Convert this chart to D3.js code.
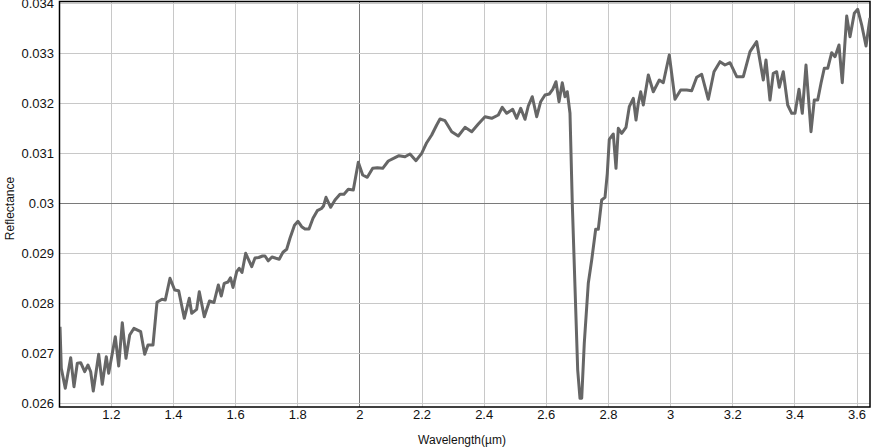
<!DOCTYPE html>
<html lang="en">
<head>
<meta charset="UTF-8">
<script src="https://d3js.org/d3.v7.min.js"></script>
<title>Reflectance spectrum</title>
<style>
body{
	margin: 0;
	background: #fff;
	font-family: "Liberation Sans", Arial, sans-serif;
}
.grid line{stroke: #c8c8c8; stroke-width: 1;}
.grid line.major{stroke: #7a7a7a;}
.axis text{font-size: 13px; fill: #111;}
.axis path, .axis line{display: none;}
.title{font-size: 12px; fill: #111;}
</style>
</head>
<body>
<svg id="chart"></svg>
<script>
// wavelength (um)
var wavelength = [1.0364,1.0406,1.0534,1.0708,1.0814,1.0921,1.1030,1.1159,1.1265,1.1352,
	1.1435,1.1609,1.1725,1.1854,1.1931,1.2144,1.2253,1.2369,1.2488,1.2607,
	1.2745,1.2961,1.3090,1.3196,1.3357,1.3486,1.3647,1.3753,1.3904,1.4055,
	1.4184,1.4364,1.4525,1.4602,1.4763,1.4847,1.5008,1.5175,1.5320,1.5459,
	1.5555,1.5649,1.5771,1.5851,1.5932,1.6051,1.6131,1.6222,1.6340,1.6534,
	1.6640,1.6759,1.6881,1.6962,1.7068,1.7187,1.7316,1.7419,1.7541,1.7660,
	1.7766,1.7911,1.8024,1.8143,1.8249,1.8378,1.8507,1.8645,1.8780,1.8845,
	1.8925,1.9076,1.9215,1.9376,1.9504,1.9643,1.9804,1.9965,2.0106,2.0254,
	2.0428,2.0576,2.0750,2.0930,2.1146,2.1275,2.1468,2.1629,2.1822,2.2005,
	2.2166,2.2327,2.2488,2.2594,2.2755,2.2971,2.3183,2.3399,2.3615,2.3827,
	2.4043,2.4258,2.4471,2.4599,2.4741,2.4934,2.5063,2.5192,2.5330,2.5436,
	2.5565,2.5707,2.5835,2.5974,2.6112,2.6222,2.6328,2.6425,2.6530,2.6617,
	2.6691,2.6778,2.6852,2.6939,2.7026,2.7100,2.7155,2.7238,2.7367,2.7477,
	2.7605,2.7689,2.7798,2.7905,2.7979,2.8043,2.8172,2.8259,2.8333,2.8442,
	2.8581,2.8687,2.8816,2.8903,2.8977,2.9054,2.9138,2.9299,2.9459,2.9653,
	2.9781,2.9974,3.0158,3.0341,3.0534,3.0695,3.0856,3.1017,3.1230,3.1413,
	3.1606,3.1767,3.1928,3.2144,3.2356,3.2572,3.2787,3.2999,3.3086,3.3215,
	3.3321,3.3430,3.3514,3.3643,3.3785,3.3914,3.4020,3.4149,3.4255,3.4374,
	3.4535,3.4641,3.4751,3.4857,3.4963,3.5073,3.5201,3.5308,3.5436,3.5542,
	3.5684,3.5791,3.5929,3.6038,3.6167,3.6306,3.6434];

var reflectance = [0.027532,0.026700,0.026300,0.026912,0.026332,0.026800,0.026812,0.026632,0.026766,0.026632,
	0.026246,0.026980,0.026380,0.026932,0.026600,0.027332,0.026746,0.027612,0.026900,0.027366,
	0.027500,0.027432,0.026980,0.027166,0.027166,0.028020,0.028080,0.028066,0.028500,0.028266,
	0.028252,0.027700,0.028100,0.027800,0.027880,0.028232,0.027732,0.028046,0.028016,0.028366,
	0.028146,0.028400,0.028426,0.028512,0.028316,0.028632,0.028700,0.028616,0.029000,0.028732,
	0.028906,0.028916,0.028946,0.028946,0.028850,0.028926,0.028900,0.028882,0.029022,0.029080,
	0.029300,0.029560,0.029640,0.029532,0.029486,0.029486,0.029700,0.029852,0.029896,0.029946,
	0.030120,0.029920,0.030066,0.030180,0.030180,0.030280,0.030266,0.030820,0.030566,0.030520,
	0.030700,0.030712,0.030700,0.030846,0.030912,0.030952,0.030932,0.030986,0.030852,0.031000,
	0.031212,0.031366,0.031566,0.031686,0.031652,0.031432,0.031346,0.031520,0.031432,0.031586,
	0.031732,0.031700,0.031766,0.031920,0.031800,0.031880,0.031700,0.031900,0.031680,0.031946,
	0.032132,0.031732,0.032032,0.032166,0.032186,0.032280,0.032432,0.032032,0.032412,0.032132,
	0.032232,0.031800,0.030000,0.028332,0.026666,0.026100,0.026100,0.027200,0.028400,0.028866,
	0.029480,0.029480,0.030066,0.030120,0.030600,0.031280,0.031386,0.030700,0.031500,0.031400,
	0.031520,0.031932,0.032100,0.031666,0.032000,0.032232,0.031966,0.032566,0.032232,0.032466,
	0.032412,0.032966,0.032080,0.032266,0.032266,0.032252,0.032520,0.032580,0.032080,0.032632,
	0.032832,0.032766,0.032812,0.032532,0.032532,0.033032,0.033232,0.032466,0.032866,0.032066,
	0.032600,0.032632,0.032320,0.032632,0.031966,0.031800,0.031800,0.032280,0.031800,0.032766,
	0.031432,0.032066,0.032066,0.032400,0.032700,0.032700,0.033012,0.032932,0.033166,0.032412,
	0.033746,0.033332,0.033800,0.033880,0.033566,0.033146,0.033706];

var xTicks = [1.2, 1.4, 1.6, 1.8, 2, 2.2, 2.4, 2.6, 2.8, 3, 3.2, 3.4, 3.6];
var xTickLabels = ["1.2","1.4","1.6","1.8","2","2.2","2.4","2.6","2.8","3","3.2","3.4","3.6"];
var yTicks = [0.026, 0.027, 0.028, 0.029, 0.03, 0.031, 0.032, 0.033, 0.034];
var yTickLabels = ["0.026","0.027","0.028","0.029","0.03","0.031","0.032","0.033","0.034"];

var margin = {top: 2, right: 1, bottom: 41, left: 60},
    width = 871 - margin.left - margin.right,
    height = 448 - margin.top - margin.bottom;

var svg = d3.select("#chart")
	.attr("width", 871)
	.attr("height", 448);

var g = svg.append("g")
	.attr("transform", "translate(" + margin.left + "," + margin.top + ")");

var x = d3.scaleLinear().domain([1.0364, 3.6434]).range([0, width]);
var y = d3.scaleLinear().domain([0.025926, 0.034026]).range([height, 0]);

// grid, the lines through 2 and 0.03 are darker
g.append("g").attr("class", "grid")
	.selectAll("line").data(xTicks).enter().append("line")
	.classed("major", function(d){ return d === 2; })
	.attr("x1", function(d){ return Math.round(x(d)) + 0.5; })
	.attr("x2", function(d){ return Math.round(x(d)) + 0.5; })
	.attr("y1", 0).attr("y2", height);

g.append("g").attr("class", "grid")
	.selectAll("line").data(yTicks).enter().append("line")
	.classed("major", function(d){ return d === 0.03; })
	.attr("y1", function(d){ return Math.round(y(d)) + 0.5; })
	.attr("y2", function(d){ return Math.round(y(d)) + 0.5; })
	.attr("x1", 0).attr("x2", width);

// frame
g.append("rect")
	.attr("x", -0.5).attr("y", -0.5)
	.attr("width", width + 0.5).attr("height", height + 0.5)
	.attr("fill", "none")
	.attr("stroke", "#000")
	.attr("stroke-width", 1.5);

g.append("g").attr("class", "axis")
	.attr("transform", "translate(0," + height + ")")
	.call(d3.axisBottom(x).tickValues(xTicks)
		.tickFormat(function(d, i){ return xTickLabels[i]; })
		.tickSize(0).tickPadding(3));

g.append("g").attr("class", "axis")
	.call(d3.axisLeft(y).tickValues(yTicks)
		.tickFormat(function(d, i){ return yTickLabels[i]; })
		.tickSize(0).tickPadding(6));

g.append("clipPath").attr("id", "clip")
	.append("rect").attr("width", width).attr("height", height);

var pts = wavelength.map(function(w, i){ return [w, reflectance[i]]; });

g.append("path")
	.datum(pts)
	.attr("clip-path", "url(#clip)")
	.attr("fill", "none")
	.attr("stroke", "#666")
	.attr("stroke-width", 3)
	.attr("stroke-linejoin", "round")
	.attr("d", d3.line()
		.x(function(d){ return x(d[0]); })
		.y(function(d){ return y(d[1]); }));

svg.append("text").attr("class", "title")
	.attr("x", margin.left + width / 2 - 3)
	.attr("y", 444)
	.attr("text-anchor", "middle")
	.text("Wavelength(µm)");

svg.append("text").attr("class", "title")
	.attr("transform", "translate(14," + (margin.top + height / 2 + 4) + ") rotate(-90)")
	.attr("text-anchor", "middle")
	.text("Reflectance");
</script>
</body>
</html>
